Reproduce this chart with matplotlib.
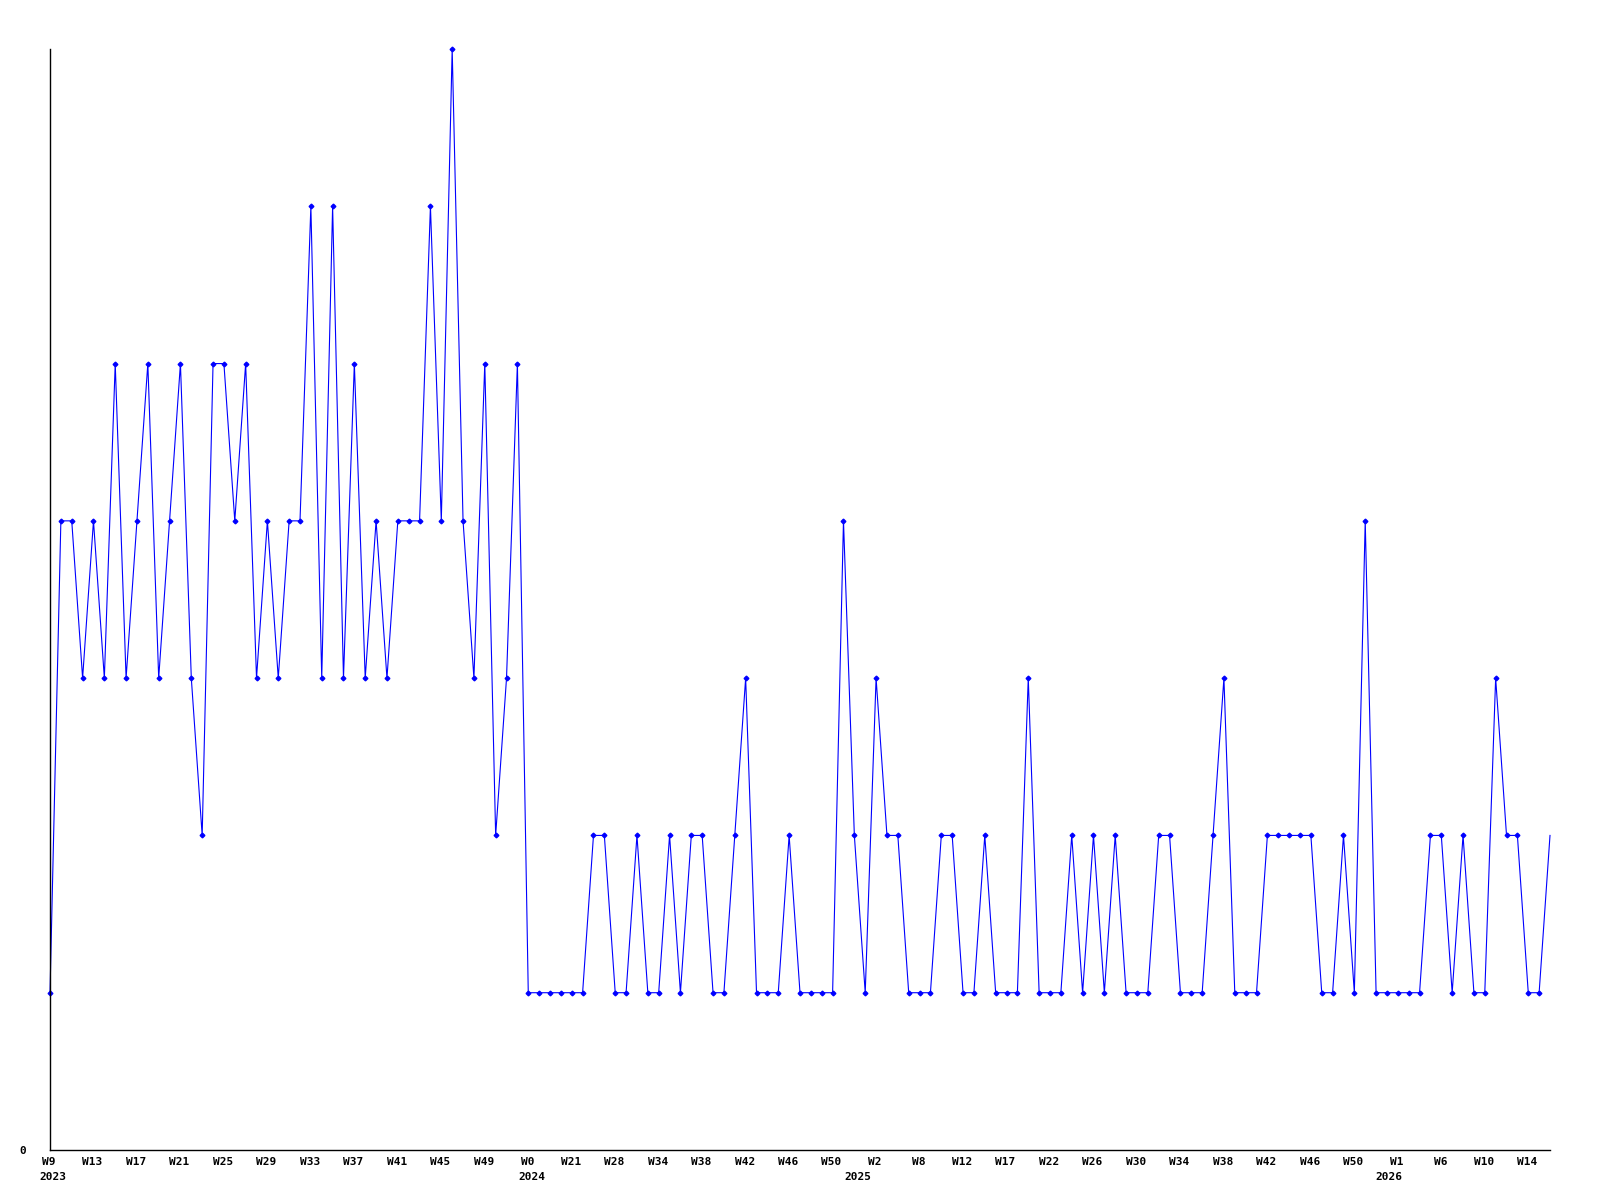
import numpy as np
from matplotlib import pyplot as plt
from matplotlib import transforms

# weekly counts, one point per entry
counts = [1, 4, 4, 3, 4, 3, 5, 3, 4, 5, 3, 4, 5, 3, 2, 5, 5, 4, 5, 3,
          4, 3, 4, 4, 6, 3, 6, 3, 5, 3, 4, 3, 4, 4, 4, 6, 4, 7, 4, 3,
          5, 2, 3, 5, 1, 1, 1, 1, 1, 1, 2, 2, 1, 1, 2, 1, 1, 2, 1, 2,
          2, 1, 1, 2, 3, 1, 1, 1, 2, 1, 1, 1, 1, 4, 2, 1, 3, 2, 2, 1,
          1, 1, 2, 2, 1, 1, 2, 1, 1, 1, 3, 1, 1, 1, 2, 1, 2, 1, 2, 1,
          1, 1, 2, 2, 1, 1, 1, 2, 3, 1, 1, 1, 2, 2, 2, 2, 2, 1, 1, 2,
          1, 4, 1, 1, 1, 1, 1, 2, 2, 1, 2, 1, 1, 3, 2, 2, 1, 1, 2]

week_labels = ['W9', 'W13', 'W17', 'W21', 'W25', 'W29', 'W33', 'W37', 'W41',
               'W45', 'W49', 'W0', 'W21', 'W28', 'W34', 'W38', 'W42', 'W46',
               'W50', 'W2', 'W8', 'W12', 'W17', 'W22', 'W26', 'W30', 'W34',
               'W38', 'W42', 'W46', 'W50', 'W1', 'W6', 'W10', 'W14']
years = ['2023', '2024', '2025', '2026']
year_pos = [0.3, 44.3, 74.3, 123.2]   # where the year labels sit on the x axis
tick_step = 4

x = np.arange(len(counts))

fig = plt.figure(figsize=(16, 12), dpi=100)
ax = fig.add_axes([50 / 1600, 50 / 1200, 1500 / 1600, 1101 / 1200])
ax.plot(x, counts, color='#0000ff', linewidth=0.8, marker='D', markersize=2.4,
        markevery=slice(0, len(counts) - 1), clip_on=False)

ax.set_xlim(0, len(counts) - 1)
ax.set_ylim(0, 7)
ax.set_xticks([])

font = dict(fontsize=8, fontweight='bold', family='DejaVu Sans Mono')
base = ax.get_xaxis_transform()
week_tr = base + transforms.ScaledTranslation(-1 / 100, -12 / 100, fig.dpi_scale_trans)
year_tr = base + transforms.ScaledTranslation(0, -27 / 100, fig.dpi_scale_trans)
for i, w in enumerate(week_labels):
    ax.text(x[i * tick_step], 0, w, transform=week_tr, ha='center', va='center', **font)
for pos, yr in zip(year_pos, years):
    ax.text(pos, 0, yr, transform=year_tr, ha='center', va='center', **font)

ax.set_yticks([0])
ax.set_yticklabels(['0'], **font)
ax.tick_params(axis='y', length=0, pad=17)

for side in ['top', 'right']:
    ax.spines[side].set_visible(False)
for side in ['left', 'bottom']:
    ax.spines[side].set_linewidth(1.0)
    ax.spines[side].set_color('black')

plt.savefig('out.png', dpi=100)
